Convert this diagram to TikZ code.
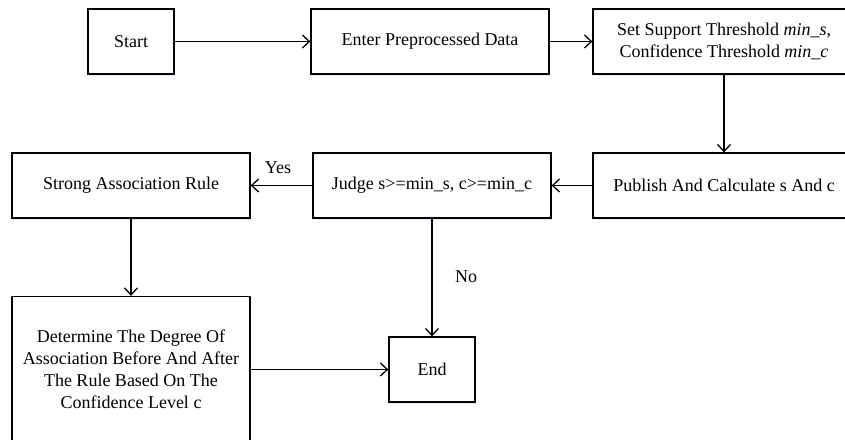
\documentclass[tikz,border=0pt]{standalone}
\usepackage{fontspec}
\setmainfont{Liberation Serif}
\usetikzlibrary{arrows.meta,shadows}
\begin{document}
\begin{tikzpicture}[x=1pt,y=-1pt,
  box/.style={draw=black, line width=1.3pt, fill=white, rectangle, inner sep=0pt,
    align=center, font=\fontsize{18}{22}\selectfont,
    drop shadow={fill=blue!25!white, opacity=0.35, shadow xshift=1pt, shadow yshift=-1.5pt}},
  conn/.style={draw=black, line width=1.3pt, -{Straight Barb[length=7pt,width=13pt,line width=1.3pt]}},
  lbl/.style={font=\fontsize{18}{22}\selectfont}
]
\clip (0,0) rectangle (845,439);
\fill[white] (0,0) rectangle (845,439);
\node[box, minimum width=86pt, minimum height=65pt] (start) at (131,41.5) {Start};
\node[box, minimum width=238pt, minimum height=65pt] (enter) at (430,41.5) {Enter Preprocessed Data};
\node[box, minimum width=262pt, minimum height=65pt] (set) at (724,41.5) {Set Support Threshold \textit{min\_s},\\Confidence Threshold \textit{min\_c}};
\node[box, minimum width=262pt, minimum height=65pt] (pub) at (724,185.5) {Publish And Calculate s And c};
\node[box, minimum width=238pt, minimum height=65pt] (judge) at (432,185.5) {Judge s>=min\_s, c>=min\_c};
\node[box, minimum width=238pt, minimum height=65pt] (strong) at (131,185.5) {Strong Association Rule};
\node[box, minimum width=238pt, minimum height=146pt] (det) at (131,369.5) {Determine The Degree Of\\Association Before And After\\The Rule Based On The\\Confidence Level c};
\node[box, minimum width=86pt, minimum height=65pt] (end) at (432,369.5) {End};
\draw[conn] (start) -- (enter);
\draw[conn] (enter) -- (set);
\draw[conn] (set) -- (pub);
\draw[conn] (pub) -- (judge);
\draw[conn] (judge) -- (strong);
\draw[conn] (strong) -- (det);
\draw[conn] (judge) -- (end);
\draw[conn] (det) -- (end);
\node[lbl] (yes) at (278,168) {Yes};
\node[lbl] (no) at (466,277) {No};
\end{tikzpicture}
\end{document}
